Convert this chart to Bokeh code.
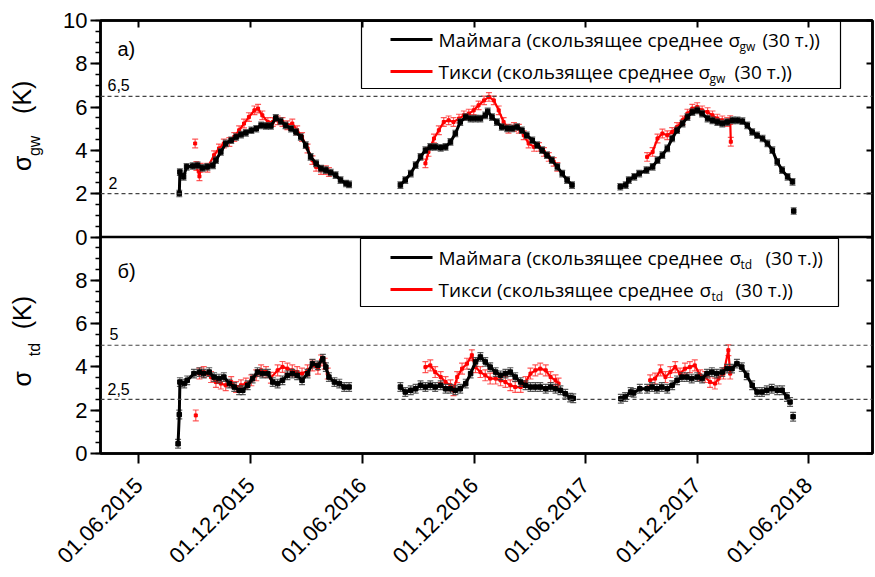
import numpy as np
import pandas as pd
from math import pi
from bokeh.plotting import figure
from bokeh.models import (Range1d, ColumnDataSource, Span, FixedTicker, LinearAxis,
                          DatetimeAxis, Label)
from bokeh.embed import file_html
from bokeh.resources import INLINE

# ---------------- data ----------------
x_tick_dates = ["2015-06-01", "2015-12-01", "2016-06-01", "2016-12-01",
                "2017-06-01", "2017-12-01", "2018-06-01"]
x_tick_labels = ["01.06.2015", "01.12.2015", "01.06.2016", "01.12.2016",
                 "01.06.2017", "01.12.2017", "01.06.2018"]
y_ticks_top = [0, 2, 4, 6, 8, 10]
y_ticks_bottom = [0, 2, 4, 6, 8]
gw_levels = [6.5, 2]
gw_level_labels = ["6,5", "2"]
td_levels = [5, 2.5]
td_level_labels = ["5", "2,5"]

# sigma_gw, Maimaga (black)
gw_maimaga_dates = [
    "2015-08-06", "2015-08-07", "2015-08-13", "2015-08-18", "2015-08-28", "2015-09-05", "2015-09-13",
    "2015-09-21", "2015-09-30", "2015-10-05", "2015-10-13", "2015-10-21", "2015-10-30", "2015-11-07",
    "2015-11-15", "2015-11-23", "2015-12-02", "2015-12-10", "2015-12-18", "2015-12-26", "2016-01-03",
    "2016-01-11", "2016-01-19", "2016-01-27", "2016-02-05", "2016-02-13", "2016-02-21", "2016-02-29",
    "2016-03-08", "2016-03-17", "2016-03-25", "2016-04-02", "2016-04-10", "2016-04-18", "2016-04-26",
    "2016-05-05", "2016-05-10", "2016-07-01",
    "2016-08-02", "2016-08-10", "2016-08-19", "2016-08-27", "2016-09-04", "2016-09-12", "2016-09-20",
    "2016-09-28", "2016-10-07", "2016-10-15", "2016-10-23", "2016-10-31", "2016-11-08", "2016-11-17",
    "2016-11-25", "2016-12-03", "2016-12-11", "2016-12-19", "2016-12-23", "2016-12-30", "2017-01-07",
    "2017-01-15", "2017-01-24", "2017-02-01", "2017-02-09", "2017-02-17", "2017-02-25", "2017-03-06",
    "2017-03-14", "2017-03-22", "2017-03-30", "2017-04-07", "2017-04-16", "2017-04-24", "2017-05-02",
    "2017-05-10", "2017-06-15",
    "2017-07-28", "2017-08-06", "2017-08-11", "2017-08-20", "2017-08-28", "2017-09-09", "2017-09-19",
    "2017-09-27", "2017-10-05", "2017-10-13", "2017-10-21", "2017-10-29", "2017-11-07", "2017-11-15",
    "2017-11-23", "2017-12-01", "2017-12-09", "2017-12-18", "2017-12-26", "2018-01-03", "2018-01-11",
    "2018-01-19", "2018-01-28", "2018-02-05", "2018-02-13", "2018-02-21", "2018-03-01", "2018-03-09",
    "2018-03-18", "2018-03-26", "2018-04-03", "2018-04-11", "2018-04-19", "2018-04-28", "2018-05-06",
    "2018-05-07", "2018-05-08"]
gw_maimaga_vals = [
    2.01, 3.0, 2.78, 3.24, 3.28, 3.31, 3.19,
    3.24, 3.31, 3.55, 3.93, 4.32, 4.47, 4.62,
    4.73, 4.81, 4.93, 5.0, 5.16, 5.13, 5.13,
    5.5, 5.35, 5.16, 5.0, 4.85, 4.62, 4.24,
    3.7, 3.4, 3.16, 3.09, 2.98, 2.86, 2.63,
    2.47, 2.43, None,
    2.4, 2.63, 2.93, 3.32, 3.7, 4.01, 4.16,
    4.16, 4.12, 4.16, 4.39, 4.78, 5.31, 5.54,
    5.47, 5.47, 5.47, 5.62, 5.8, 5.54, 5.31,
    5.08, 5.02, 5.02, 5.08, 4.93, 4.7, 4.47,
    4.24, 4.01, 3.78, 3.55, 3.24, 2.93, 2.63,
    2.4, None,
    2.32, 2.4, 2.63, 2.78, 2.93, 3.09, 3.24,
    3.55, 3.78, 4.09, 4.55, 4.93, 5.24, 5.54,
    5.77, 5.85, 5.7, 5.47, 5.39, 5.31, 5.24,
    5.31, 5.39, 5.39, 5.35, 5.16, 4.85, 4.7,
    4.55, 4.32, 4.01, 3.47, 3.09, 2.78, 2.55,
    None, 1.2]

# sigma_gw, Tiksi (red)
gw_tiksi_dates = [
    "2015-09-01", "2015-09-02",
    "2015-09-03", "2015-09-08", "2015-09-10", "2015-09-21", "2015-10-02", "2015-10-10", "2015-10-18",
    "2015-10-27", "2015-11-04", "2015-11-12", "2015-11-20", "2015-11-28", "2015-12-07", "2015-12-13",
    "2015-12-20", "2015-12-29", "2016-01-06", "2016-01-14", "2016-01-22", "2016-01-30", "2016-02-07",
    "2016-02-15", "2016-02-23", "2016-03-03", "2016-03-11", "2016-03-17", "2016-03-25", "2016-04-02",
    "2016-04-07", "2016-07-01",
    "2016-09-12", "2016-09-17", "2016-09-26", "2016-10-04", "2016-10-12", "2016-10-20", "2016-10-28",
    "2016-11-06", "2016-11-14", "2016-11-22", "2016-11-30", "2016-12-08", "2016-12-17", "2016-12-25",
    "2017-01-02", "2017-01-10", "2017-01-18", "2017-01-26", "2017-02-04", "2017-02-12", "2017-02-20",
    "2017-02-28", "2017-03-09", "2017-03-17", "2017-03-25", "2017-04-02", "2017-04-10", "2017-04-16",
    "2017-06-15",
    "2017-09-10", "2017-09-19", "2017-09-27", "2017-10-05", "2017-10-13", "2017-10-21", "2017-10-29",
    "2017-11-07", "2017-11-15", "2017-11-23", "2017-12-01", "2017-12-09", "2017-12-18", "2017-12-26",
    "2018-01-03", "2018-01-11", "2018-01-19", "2018-01-24", "2018-01-25"]
gw_tiksi_vals = [
    4.32, None,
    3.28, 2.8, 3.2, 3.2, 3.78, 4.09, 4.32,
    4.39, 4.62, 4.93, 5.24, 5.54, 5.85, 5.93,
    5.62, 5.31, 5.31, 5.39, 5.31, 5.16, 5.24,
    4.93, 4.62, 4.09, 3.55, 3.24, 3.09, 3.09,
    3.0, None,
    3.4, 3.93, 4.55, 4.93, 5.31, 5.39, 5.31,
    5.47, 5.62, 5.7, 5.85, 6.08, 6.31, 6.47,
    6.31, 5.85, 5.31, 5.0, 5.08, 5.0, 4.7,
    4.32, 4.16, 4.16, 3.93, 3.7, 3.47, 3.24,
    None,
    3.7, 3.93, 4.55, 4.78, 4.7, 4.85, 5.08,
    5.39, 5.7, 5.93, 6.0, 5.85, 5.77, 5.62,
    5.47, 5.39, 5.31, 5.4, 4.4]

# sigma_td, Maimaga (black)
td_maimaga_dates = [
    "2015-08-04", "2015-08-06", "2015-08-07", "2015-08-14", "2015-08-19", "2015-08-30", "2015-09-08",
    "2015-09-15", "2015-09-24", "2015-10-02", "2015-10-10", "2015-10-18", "2015-10-27", "2015-11-04",
    "2015-11-12", "2015-11-18", "2015-11-26", "2015-12-04", "2015-12-12", "2015-12-20", "2015-12-29",
    "2016-01-06", "2016-01-14", "2016-01-22", "2016-01-30", "2016-02-07", "2016-02-15", "2016-02-23",
    "2016-03-03", "2016-03-11", "2016-03-20", "2016-03-28", "2016-04-02", "2016-04-07", "2016-04-16",
    "2016-04-24", "2016-05-02", "2016-05-10", "2016-07-01",
    "2016-08-02", "2016-08-10", "2016-08-19", "2016-08-27", "2016-09-04", "2016-09-12", "2016-09-20",
    "2016-09-28", "2016-10-07", "2016-10-15", "2016-10-23", "2016-10-31", "2016-11-08", "2016-11-17",
    "2016-11-25", "2016-12-03", "2016-12-11", "2016-12-19", "2016-12-27", "2017-01-05", "2017-01-13",
    "2017-01-21", "2017-01-29", "2017-02-06", "2017-02-15", "2017-02-23", "2017-03-03", "2017-03-11",
    "2017-03-19", "2017-03-28", "2017-04-05", "2017-04-13", "2017-04-21", "2017-04-29", "2017-05-07",
    "2017-05-12", "2017-06-15",
    "2017-07-29", "2017-08-05", "2017-08-14", "2017-08-19", "2017-08-29", "2017-09-10", "2017-09-18",
    "2017-09-26", "2017-10-04", "2017-10-13", "2017-10-21", "2017-10-29", "2017-11-06", "2017-11-14",
    "2017-11-22", "2017-12-01", "2017-12-09", "2017-12-17", "2017-12-25", "2018-01-02", "2018-01-11",
    "2018-01-19", "2018-01-27", "2018-02-04", "2018-02-12", "2018-02-20", "2018-03-01", "2018-03-09",
    "2018-03-17", "2018-03-25", "2018-04-02", "2018-04-11", "2018-04-19", "2018-04-27", "2018-05-02",
    "2018-05-05", "2018-05-07"]
td_maimaga_vals = [
    0.45, 1.8, 3.3, 3.23, 3.38, 3.69, 3.76,
    3.69, 3.76, 3.53, 3.46, 3.53, 3.23, 3.07,
    2.92, 2.92, 3.15, 3.46, 3.76, 3.69, 3.69,
    3.3, 3.23, 3.38, 3.61, 3.69, 3.61, 3.38,
    3.69, 4.15, 4.07, 4.38, 3.99, 3.53, 3.3,
    3.23, 3.07, 3.07, None,
    3.07, 2.84, 2.92, 2.99, 3.15, 3.07, 3.15,
    3.07, 3.15, 2.99, 2.99, 2.92, 2.99, 3.23,
    3.69, 4.23, 4.46, 4.23, 3.99, 3.76, 3.61,
    3.69, 3.76, 3.53, 3.3, 3.15, 3.07, 3.07,
    3.07, 2.99, 3.07, 2.99, 2.92, 2.76, 2.58,
    2.55, None,
    2.53, 2.61, 2.84, 2.8, 2.99, 2.99, 3.07,
    2.99, 3.07, 2.99, 3.15, 3.38, 3.53, 3.53,
    3.46, 3.53, 3.46, 3.69, 3.76, 3.69, 3.76,
    3.92, 3.92, 4.15, 3.99, 3.61, 3.15, 2.84,
    2.84, 2.92, 2.99, 2.92, 2.92, 2.61, 2.38,
    None, 1.7]

# sigma_td, Tiksi (red)
td_tiksi_dates = [
    "2015-09-02", "2015-09-05",
    "2015-09-08", "2015-09-15", "2015-09-27", "2015-10-05", "2015-10-13", "2015-10-21", "2015-10-30",
    "2015-11-07", "2015-11-15", "2015-11-23", "2015-12-02", "2015-12-10", "2015-12-18", "2015-12-26",
    "2016-01-03", "2016-01-14", "2016-01-22", "2016-01-30", "2016-02-07", "2016-02-15", "2016-02-23",
    "2016-03-03", "2016-03-11", "2016-03-20", "2016-03-25", "2016-03-31", "2016-04-05", "2016-07-01",
    "2016-09-12", "2016-09-20", "2016-09-28", "2016-10-07", "2016-10-15", "2016-10-23", "2016-10-28",
    "2016-11-03", "2016-11-11", "2016-11-19", "2016-11-27", "2016-12-03", "2016-12-11", "2016-12-19",
    "2016-12-27", "2017-01-05", "2017-01-13", "2017-01-21", "2017-01-29", "2017-02-06", "2017-02-15",
    "2017-02-23", "2017-03-03", "2017-03-11", "2017-03-19", "2017-03-28", "2017-04-05", "2017-04-13",
    "2017-04-18", "2017-06-15",
    "2017-09-15", "2017-09-23", "2017-10-02", "2017-10-10", "2017-10-18", "2017-10-26", "2017-11-03",
    "2017-11-11", "2017-11-19", "2017-11-27", "2017-12-06", "2017-12-14", "2017-12-22", "2017-12-30",
    "2018-01-05", "2018-01-13", "2018-01-21", "2018-01-24"]
td_tiksi_vals = [
    1.76, None,
    3.69, 3.76, 3.53, 3.3, 3.23, 3.15, 3.3,
    3.07, 3.15, 3.23, 3.38, 3.61, 3.84, 3.76,
    3.5, 3.84, 4.0, 3.92, 3.84, 3.76, 3.69,
    3.84, 4.07, 3.92, 4.3, 4.15, 3.69, None,
    3.99, 4.07, 3.76, 3.53, 3.3, 3.15, 2.92,
    3.53, 3.92, 4.15, 4.54, 3.99, 3.76, 3.61,
    3.46, 3.46, 3.38, 3.3, 3.15, 3.07, 3.07,
    3.3, 3.69, 3.84, 3.92, 3.84, 3.53, 3.38,
    3.23, None,
    3.38, 3.46, 3.84, 3.53, 3.76, 3.99, 3.69,
    3.92, 3.99, 4.07, 3.61, 3.53, 3.3, 3.23,
    3.46, 3.69, 4.77, 3.69]

# approximate error-bar half widths
gw_maimaga_err = 0.15
gw_tiksi_err = 0.2
td_maimaga_err = 0.2
td_tiksi_err = 0.25

# ---------------- figure ----------------
X_START = pd.Timestamp("2015-03-30")
X_END = pd.Timestamp("2018-09-14")
FR_L, FR_R, FR_T, FR_B = 100, 872, 20, 453
NB = "\u00a0"


def ms(ts):
    return pd.Timestamp(ts).value / 1e6


x0_ms, x1_ms = ms(X_START), ms(X_END)


def xpx(px):
    return x0_ms + (px - FR_L) / (FR_R - FR_L) * (x1_ms - x0_ms)


def ypx(py):
    return 10 - (py - FR_T) / (FR_B - FR_T) * 20


p = figure(width=875, height=577, x_axis_type="datetime",
           x_range=Range1d(x0_ms, x1_ms), y_range=Range1d(-10, 10),
           output_backend="svg", toolbar_location=None,
           min_border_left=FR_L, min_border_right=875 - FR_R,
           min_border_top=FR_T, min_border_bottom=577 - FR_B)
p.extra_y_ranges = {"bottom": Range1d(0, 20)}
p.background_fill_color = "white"
p.border_fill_color = "white"
p.xgrid.visible = False
p.ygrid.visible = False
p.outline_line_color = "black"
p.outline_line_width = 2.5

TICK_FONT = "Liberation Sans"
tick_ms = [ms(d) for d in x_tick_dates]

xa = p.xaxis[0]
xa.ticker = FixedTicker(ticks=tick_ms, minor_ticks=[])
xa.major_label_overrides = {int(t): lab for t, lab in zip(tick_ms, x_tick_labels)}
xa.major_label_orientation = pi / 4
xa.major_label_text_font = TICK_FONT
xa.major_label_text_font_size = "22px"
xa.major_label_text_color = "black"
xa.major_tick_out = 10
xa.major_tick_in = 0
xa.major_tick_line_width = 2
xa.axis_line_width = 2.5
xa.major_label_standoff = 18

y_major = [v - 10 for v in y_ticks_bottom] + y_ticks_top
y_over = {v - 10: str(v) for v in y_ticks_bottom}
y_over.update({v: str(v) for v in y_ticks_top})
ya = p.yaxis[0]
ya.ticker = FixedTicker(ticks=y_major, minor_ticks=list(np.arange(-10, 10.01, 0.5)))
ya.major_label_overrides = y_over
ya.major_label_text_font = TICK_FONT
ya.major_label_text_font_size = "22px"
ya.major_label_text_color = "black"
ya.major_tick_out = 10
ya.major_tick_in = 0
ya.minor_tick_out = 5
ya.minor_tick_in = 0
ya.major_tick_line_width = 2
ya.minor_tick_line_width = 1.5
ya.axis_line_width = 2.5
ya.major_label_standoff = 3
# subscripts of the two axis titles (bottom panel first, read bottom-to-top)
ya.axis_label = NB * 2 + "td" + NB * 42 + "gw" + NB * 6
ya.axis_label_text_font = TICK_FONT
ya.axis_label_text_font_size = "16px"
ya.axis_label_text_font_style = "normal"
ya.axis_label_text_color = "black"
ya.axis_label_standoff = 17

# main part of the two axis titles
title_axis = LinearAxis(ticker=FixedTicker(ticks=[], minor_ticks=[]),
                        axis_line_color=None, major_tick_out=0, major_tick_in=0,
                        minor_tick_out=0, minor_tick_in=0, major_label_standoff=0,
                        axis_label=NB * 2 + "σ" + NB * 6 + "(K)" + NB * 18 + "σ" + NB * 6 + "(K)" + NB,
                        axis_label_text_font=TICK_FONT, axis_label_text_font_size="25px",
                        axis_label_text_font_style="normal", axis_label_text_color="black",
                        axis_label_standoff=-12)
p.add_layout(title_axis, "left")

ra = LinearAxis(ticker=FixedTicker(ticks=y_major, minor_ticks=[]),
                major_tick_in=6, major_tick_out=0, major_tick_line_width=2,
                major_label_overrides={t: "" for t in y_major}, major_label_standoff=0,
                major_label_text_font_size="8px", axis_line_width=2.5)
p.add_layout(ra, "right")
ta = DatetimeAxis(ticker=FixedTicker(ticks=tick_ms, minor_ticks=[]),
                  major_tick_in=7, major_tick_out=0, major_tick_line_width=2,
                  major_label_overrides={int(t): "" for t in tick_ms}, major_label_standoff=0,
                  major_label_text_font_size="8px", axis_line_width=2.5)
p.add_layout(ta, "above")

# reference lines
for lv in gw_levels:
    p.add_layout(Span(location=lv, dimension="width", line_color="#444444",
                      line_dash="4 3", line_width=1.2))
for lv in td_levels:
    p.add_layout(Span(location=lv, dimension="width", line_color="#444444",
                      line_dash="4 3", line_width=1.2, y_range_name="bottom"))
p.add_layout(Span(location=0, dimension="width", line_color="black", line_width=2.5))


def add_series(dates, vals, err, color, bar_color, bar_alpha, lw, msize, yr):
    d = np.array([ms(x) for x in dates])
    v = np.array([np.nan if x is None else x for x in vals], dtype=float)
    m = ~np.isnan(v)
    kw = {} if yr is None else {"y_range_name": yr}
    pts = ColumnDataSource(dict(x=d[m], y=v[m], lo=v[m] - err, hi=v[m] + err))
    p.segment(x0="x", x1="x", y0="lo", y1="hi", source=pts, line_color=bar_color,
              line_alpha=bar_alpha, line_width=1.2, **kw)
    p.scatter(x="x", y="lo", source=pts, marker="dash", size=6, line_color=bar_color,
              line_alpha=bar_alpha, line_width=1.2, **kw)
    p.scatter(x="x", y="hi", source=pts, marker="dash", size=6, line_color=bar_color,
              line_alpha=bar_alpha, line_width=1.2, **kw)
    p.line(x=d, y=v, line_color=color, line_width=lw, **kw)
    p.scatter(x="x", y="y", source=pts, marker="square", size=msize, fill_color=color,
              line_color=color, **kw)


add_series(gw_tiksi_dates, gw_tiksi_vals, gw_tiksi_err, "#ff0000", "#ff3030", 0.8, 2.2, 3, None)
add_series(gw_maimaga_dates, gw_maimaga_vals, gw_maimaga_err, "black", "#404040", 0.85, 3, 4.5, None)
add_series(td_tiksi_dates, td_tiksi_vals, td_tiksi_err, "#ff0000", "#ff3030", 0.8, 2.2, 3, "bottom")
add_series(td_maimaga_dates, td_maimaga_vals, td_maimaga_err, "black", "#404040", 0.85, 3, 4.5, "bottom")


def label(px, py, text, size, font=TICK_FONT, align="left", baseline="middle"):
    p.add_layout(Label(x=xpx(px), y=ypx(py), text=text, text_font=font,
                       text_font_size=size, text_align=align,
                       text_baseline=baseline, text_color="black"))


# panel letters and level labels
label(117, 48, "а)", "20px")
label(117, 270, "б)", "20px")
label(107, 84, gw_level_labels[0], "16px")
label(108, 182, gw_level_labels[1], "16px")
label(109, 333, td_level_labels[0], "16px")
label(107, 388, td_level_labels[1], "16px")

# legends
LEG_FONT = "Open Sans"


def legend_box(l, r, t, b):
    p.quad(left=[xpx(l)], right=[xpx(r)], top=[ypx(t)], bottom=[ypx(b)],
           fill_color="white", line_color="black", line_width=1.2)


def legend_row(py, color, name, sub, sig_x, sub_x, tail_x):
    p.segment(x0=[xpx(390)], x1=[xpx(432)], y0=[ypx(py)], y1=[ypx(py)],
              line_color=color, line_width=3)
    label(438, py, name + " (скользящее среднее", "19px", font=LEG_FONT)
    label(sig_x, py, "σ", "19px", font=LEG_FONT)
    label(sub_x, py + 7, sub, "12px", font=LEG_FONT)
    label(tail_x, py, "(30 т.))", "19px", font=LEG_FONT)


legend_box(361, 840, 21, 88)
legend_row(39, "black", "Маймага", "gw", 728, 739, 762)
legend_row(71, "#ff0000", "Тикси", "gw", 698, 709, 734)
legend_box(360, 838, 238, 306)
legend_row(257, "black", "Маймага", "td", 729, 740, 765)
legend_row(289, "#ff0000", "Тикси", "td", 699, 711, 735)

open("out.html", "w").write(file_html(p, INLINE))
